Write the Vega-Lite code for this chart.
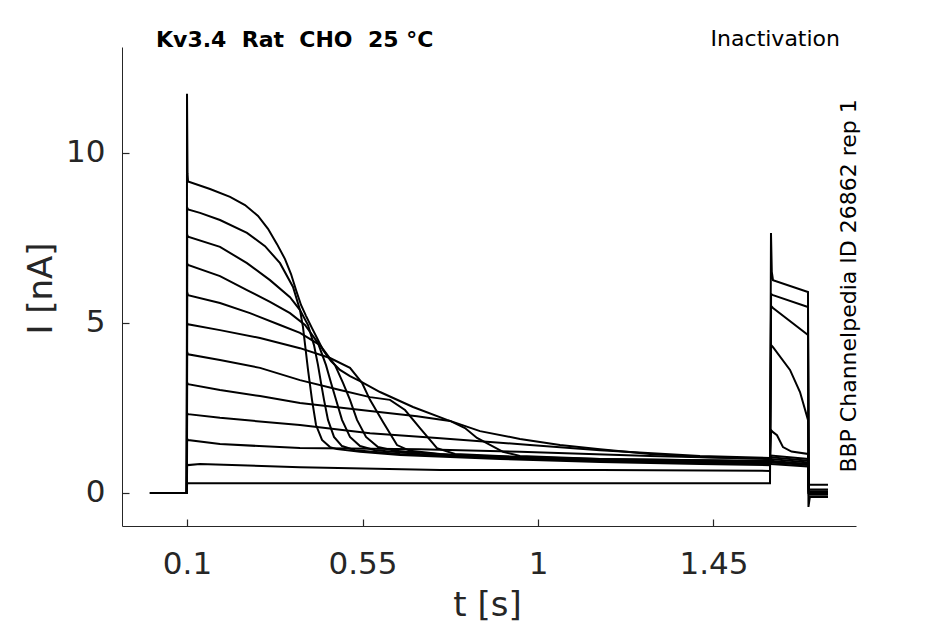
{
"$schema": "https://vega.github.io/schema/vega-lite/v6.json",
"width": 734, "height": 479,
"autosize": {"type": "none"},
"padding": {"left": 122, "top": 47, "right": 89, "bottom": 98},
"background": "white",
"config": {"view": {"stroke": null}, "font": "DejaVu Sans"},
"resolve": {"axis": {"x": "independent", "y": "independent"}},
"datasets": {
"traces": [
{"s":"A","t":0.005,"v":0},{"s":"A","t":0.0995,"v":0},{"s":"A","t":0.1,"v":11.74},{"s":"A","t":0.1013,"v":9.4},{"s":"A","t":0.1026,"v":9.16},{"s":"A","t":0.159,"v":8.94},{"s":"A","t":0.2103,"v":8.71},{"s":"A","t":0.2487,"v":8.47},{"s":"A","t":0.2821,"v":8.15},{"s":"A","t":0.3077,"v":7.77},{"s":"A","t":0.3308,"v":7.32},{"s":"A","t":0.3513,"v":6.88},{"s":"A","t":0.3667,"v":6.44},{"s":"A","t":0.3795,"v":5.97},{"s":"A","t":0.3923,"v":5.53},{"s":"A","t":0.4051,"v":5.21},{"s":"A","t":0.4205,"v":4.85},{"s":"A","t":0.4359,"v":4.5},{"s":"A","t":0.4487,"v":4.21},{"s":"A","t":0.4692,"v":3.88},{"s":"A","t":0.4923,"v":3.62},{"s":"A","t":0.5179,"v":3.44},{"s":"A","t":0.5436,"v":3.29},{"s":"A","t":0.5949,"v":2.97},{"s":"A","t":0.6795,"v":2.53},{"s":"A","t":0.7667,"v":2.15},{"s":"A","t":0.8513,"v":1.82},{"s":"A","t":0.9538,"v":1.59},{"s":"A","t":1.0564,"v":1.41},{"s":"A","t":1.159,"v":1.29},{"s":"A","t":1.2872,"v":1.15},{"s":"A","t":1.4154,"v":1.06},{"s":"A","t":1.5949,"v":1.0},{"s":"A","t":1.5977,"v":1.1},{"s":"A","t":1.6923,"v":1.0},{"s":"A","t":1.6945,"v":0.0},{"s":"A","t":1.7436,"v":0.0},
{"s":"B","t":0.005,"v":0},{"s":"B","t":0.0995,"v":0},{"s":"B","t":0.1003,"v":8.4},{"s":"B","t":0.1026,"v":8.34},{"s":"B","t":0.1333,"v":8.24},{"s":"B","t":0.1846,"v":8.03},{"s":"B","t":0.2538,"v":7.65},{"s":"B","t":0.3,"v":7.26},{"s":"B","t":0.3385,"v":6.76},{"s":"B","t":0.3718,"v":6.06},{"s":"B","t":0.3897,"v":5.38},{"s":"B","t":0.3974,"v":4.88},{"s":"B","t":0.4103,"v":3.62},{"s":"B","t":0.4205,"v":2.74},{"s":"B","t":0.4308,"v":2.0},{"s":"B","t":0.4462,"v":1.56},{"s":"B","t":0.4667,"v":1.35},{"s":"B","t":0.4846,"v":1.29},{"s":"B","t":0.5436,"v":1.21},{"s":"B","t":0.6462,"v":1.12},{"s":"B","t":0.9026,"v":1.0},{"s":"B","t":1.159,"v":0.91},{"s":"B","t":1.4154,"v":0.85},{"s":"B","t":1.5949,"v":0.82},{"s":"B","t":1.5977,"v":0.9},{"s":"B","t":1.6923,"v":0.82},{"s":"B","t":1.6945,"v":-0.05},{"s":"B","t":1.7436,"v":-0.05},
{"s":"C","t":0.005,"v":0},{"s":"C","t":0.0995,"v":0},{"s":"C","t":0.1003,"v":7.6},{"s":"C","t":0.1026,"v":7.54},{"s":"C","t":0.1846,"v":7.24},{"s":"C","t":0.2538,"v":6.76},{"s":"C","t":0.3128,"v":6.26},{"s":"C","t":0.3641,"v":5.76},{"s":"C","t":0.3897,"v":5.38},{"s":"C","t":0.4103,"v":4.94},{"s":"C","t":0.4256,"v":4.35},{"s":"C","t":0.4359,"v":3.76},{"s":"C","t":0.4436,"v":3.24},{"s":"C","t":0.4513,"v":2.74},{"s":"C","t":0.4615,"v":2.15},{"s":"C","t":0.4769,"v":1.65},{"s":"C","t":0.4974,"v":1.38},{"s":"C","t":0.5308,"v":1.26},{"s":"C","t":0.6462,"v":1.15},{"s":"C","t":0.9026,"v":1.03},{"s":"C","t":1.159,"v":0.94},{"s":"C","t":1.4154,"v":0.88},{"s":"C","t":1.5949,"v":0.85},{"s":"C","t":1.5977,"v":0.95},{"s":"C","t":1.6923,"v":0.85},{"s":"C","t":1.6945,"v":0.05},{"s":"C","t":1.7436,"v":0.05},
{"s":"D","t":0.005,"v":0},{"s":"D","t":0.0995,"v":0},{"s":"D","t":0.1003,"v":6.75},{"s":"D","t":0.1026,"v":6.71},{"s":"D","t":0.1846,"v":6.38},{"s":"D","t":0.2538,"v":5.97},{"s":"D","t":0.3128,"v":5.62},{"s":"D","t":0.3641,"v":5.29},{"s":"D","t":0.4026,"v":4.94},{"s":"D","t":0.4359,"v":4.41},{"s":"D","t":0.4564,"v":3.76},{"s":"D","t":0.4692,"v":3.24},{"s":"D","t":0.4821,"v":2.74},{"s":"D","t":0.4974,"v":2.15},{"s":"D","t":0.5179,"v":1.65},{"s":"D","t":0.5436,"v":1.38},{"s":"D","t":0.5821,"v":1.26},{"s":"D","t":0.6974,"v":1.15},{"s":"D","t":0.9026,"v":1.06},{"s":"D","t":1.159,"v":0.97},{"s":"D","t":1.5949,"v":0.88},{"s":"D","t":1.5977,"v":1.0},{"s":"D","t":1.6923,"v":0.9},{"s":"D","t":1.6945,"v":0.0},{"s":"D","t":1.7436,"v":0.0},
{"s":"E","t":0.005,"v":0},{"s":"E","t":0.0995,"v":0},{"s":"E","t":0.1003,"v":5.9},{"s":"E","t":0.1026,"v":5.82},{"s":"E","t":0.1846,"v":5.59},{"s":"E","t":0.2615,"v":5.29},{"s":"E","t":0.3385,"v":4.94},{"s":"E","t":0.3897,"v":4.71},{"s":"E","t":0.441,"v":4.35},{"s":"E","t":0.4795,"v":3.76},{"s":"E","t":0.5,"v":3.24},{"s":"E","t":0.5179,"v":2.74},{"s":"E","t":0.5359,"v":2.15},{"s":"E","t":0.559,"v":1.65},{"s":"E","t":0.5897,"v":1.35},{"s":"E","t":0.6333,"v":1.24},{"s":"E","t":0.7744,"v":1.12},{"s":"E","t":1.0308,"v":1.03},{"s":"E","t":1.2872,"v":0.94},{"s":"E","t":1.5949,"v":0.88},{"s":"E","t":1.5977,"v":0.85},{"s":"E","t":1.6923,"v":0.78},{"s":"E","t":1.6945,"v":0.0},{"s":"E","t":1.7436,"v":0.0},
{"s":"F","t":0.005,"v":0},{"s":"F","t":0.0995,"v":0},{"s":"F","t":0.1003,"v":5.0},{"s":"F","t":0.1026,"v":4.96},{"s":"F","t":0.1846,"v":4.79},{"s":"F","t":0.2872,"v":4.56},{"s":"F","t":0.3897,"v":4.26},{"s":"F","t":0.4667,"v":3.97},{"s":"F","t":0.5179,"v":3.68},{"s":"F","t":0.5487,"v":3.24},{"s":"F","t":0.5692,"v":2.74},{"s":"F","t":0.6026,"v":2.09},{"s":"F","t":0.6385,"v":1.41},{"s":"F","t":0.6718,"v":1.24},{"s":"F","t":0.7487,"v":1.15},{"s":"F","t":0.9026,"v":1.06},{"s":"F","t":1.159,"v":0.97},{"s":"F","t":1.5949,"v":0.91},{"s":"F","t":1.5977,"v":0.92},{"s":"F","t":1.6923,"v":0.85},{"s":"F","t":1.6945,"v":0.0},{"s":"F","t":1.7436,"v":0.0},
{"s":"G","t":0.005,"v":0},{"s":"G","t":0.0995,"v":0},{"s":"G","t":0.1003,"v":4.15},{"s":"G","t":0.1026,"v":4.08},{"s":"G","t":0.1846,"v":3.91},{"s":"G","t":0.2872,"v":3.68},{"s":"G","t":0.3897,"v":3.32},{"s":"G","t":0.4923,"v":3.03},{"s":"G","t":0.5692,"v":2.82},{"s":"G","t":0.6205,"v":2.74},{"s":"G","t":0.659,"v":2.44},{"s":"G","t":0.6974,"v":1.91},{"s":"G","t":0.741,"v":1.32},{"s":"G","t":0.7872,"v":1.15},{"s":"G","t":0.9538,"v":1.06},{"s":"G","t":1.159,"v":1.0},{"s":"G","t":1.5949,"v":0.94},{"s":"G","t":1.5977,"v":1.05},{"s":"G","t":1.6923,"v":0.95},{"s":"G","t":1.6945,"v":0.0},{"s":"G","t":1.7436,"v":0.0},
{"s":"H","t":0.005,"v":0},{"s":"H","t":0.0995,"v":0},{"s":"H","t":0.1003,"v":3.25},{"s":"H","t":0.1026,"v":3.2},{"s":"H","t":0.1846,"v":3.03},{"s":"H","t":0.2872,"v":2.85},{"s":"H","t":0.3897,"v":2.65},{"s":"H","t":0.5692,"v":2.41},{"s":"H","t":0.6897,"v":2.26},{"s":"H","t":0.7744,"v":2.12},{"s":"H","t":0.8128,"v":1.91},{"s":"H","t":0.8436,"v":1.62},{"s":"H","t":0.9103,"v":1.21},{"s":"H","t":0.9538,"v":1.09},{"s":"H","t":1.159,"v":1.0},{"s":"H","t":1.5949,"v":0.94},{"s":"H","t":1.5977,"v":1.85},{"s":"H","t":1.6026,"v":1.79},{"s":"H","t":1.6128,"v":1.7},{"s":"H","t":1.6282,"v":1.35},{"s":"H","t":1.65,"v":1.22},{"s":"H","t":1.6923,"v":1.15},{"s":"H","t":1.6945,"v":0.0},{"s":"H","t":1.7436,"v":0.0},
{"s":"I","t":0.005,"v":0},{"s":"I","t":0.0995,"v":0},{"s":"I","t":0.1003,"v":2.35},{"s":"I","t":0.1026,"v":2.32},{"s":"I","t":0.1846,"v":2.21},{"s":"I","t":0.3897,"v":2.0},{"s":"I","t":0.5692,"v":1.76},{"s":"I","t":0.741,"v":1.62},{"s":"I","t":0.9795,"v":1.41},{"s":"I","t":1.159,"v":1.26},{"s":"I","t":1.4154,"v":1.09},{"s":"I","t":1.5949,"v":1.03},{"s":"I","t":1.5977,"v":4.35},{"s":"I","t":1.6026,"v":4.29},{"s":"I","t":1.6462,"v":3.62},{"s":"I","t":1.6718,"v":2.97},{"s":"I","t":1.6923,"v":2.15},{"s":"I","t":1.6945,"v":0.1},{"s":"I","t":1.7436,"v":0.1},
{"s":"J","t":0.005,"v":0},{"s":"J","t":0.0995,"v":0},{"s":"J","t":0.1003,"v":1.6},{"s":"J","t":0.1026,"v":1.56},{"s":"J","t":0.1846,"v":1.44},{"s":"J","t":0.3897,"v":1.32},{"s":"J","t":0.6974,"v":1.29},{"s":"J","t":0.9538,"v":1.21},{"s":"J","t":1.2872,"v":1.09},{"s":"J","t":1.5949,"v":1.0},{"s":"J","t":1.5977,"v":5.5},{"s":"J","t":1.6026,"v":5.44},{"s":"J","t":1.6923,"v":4.65},{"s":"J","t":1.6945,"v":0.24},{"s":"J","t":1.7436,"v":0.24},
{"s":"K","t":0.005,"v":0},{"s":"K","t":0.0995,"v":0},{"s":"K","t":0.1003,"v":0.85},{"s":"K","t":0.1026,"v":0.82},{"s":"K","t":0.1333,"v":0.85},{"s":"K","t":0.3897,"v":0.76},{"s":"K","t":0.7487,"v":0.68},{"s":"K","t":1.159,"v":0.68},{"s":"K","t":1.5949,"v":0.65},{"s":"K","t":1.5977,"v":5.85},{"s":"K","t":1.6026,"v":5.82},{"s":"K","t":1.6923,"v":5.47},{"s":"K","t":1.6945,"v":0.03},{"s":"K","t":1.7436,"v":0.03},
{"s":"L","t":0.005,"v":0},{"s":"L","t":0.0995,"v":0},{"s":"L","t":0.1003,"v":0.3},{"s":"L","t":0.1026,"v":0.29},{"s":"L","t":0.3897,"v":0.29},{"s":"L","t":1.5949,"v":0.29},{"s":"L","t":1.5974,"v":7.65},{"s":"L","t":1.5995,"v":6.5},{"s":"L","t":1.6026,"v":6.26},{"s":"L","t":1.6923,"v":5.91},{"s":"L","t":1.6935,"v":-0.41},{"s":"L","t":1.697,"v":-0.12},{"s":"L","t":1.7436,"v":-0.12}
]
},
"layer": [
{
"data": {"name": "traces"},
"mark": {"type": "line", "color": "black", "strokeWidth": 2, "clip": false},
"encoding": {
"x": {"field": "t", "type": "quantitative",
"scale": {"domain": [-0.0667, 1.8154], "nice": false, "zero": false},
"axis": {"orient": "bottom", "values": [0.1, 0.55, 1, 1.45], "format": ".3~g", "grid": false, "title": "t [s]", "ticks": false,
"labelFontSize": 31, "labelFont": "DejaVu Sans", "labelColor": "#262626", "labelFlush": false, "labelOverlap": false,
"labelPadding": 23, "domainColor": "#262626", "domainWidth": 1,
"titleFontSize": 34, "titleFont": "DejaVu Sans", "titleFontWeight": "normal", "titleColor": "#262626",
"titleX": 365, "titleY": 89, "titleBaseline": "alphabetic", "titleAlign": "center"}},
"y": {"field": "v", "type": "quantitative",
"scale": {"domain": [-0.9706, 13.1176], "nice": false, "zero": false},
"axis": {"orient": "left", "values": [0, 5, 10], "format": ".3~g", "grid": false, "title": "I [nA]", "ticks": false,
"labelFontSize": 31, "labelFont": "DejaVu Sans", "labelColor": "#262626", "labelFlush": false, "labelOverlap": false,
"labelPadding": 17, "domainColor": "#262626", "domainWidth": 1,
"titleFontSize": 34, "titleFont": "DejaVu Sans", "titleFontWeight": "normal", "titleColor": "#262626",
"titleX": -81, "titleY": 241, "titleBaseline": "middle", "titleAlign": "center", "titleAngle": 270}},
"detail": {"field": "s", "type": "nominal"}
}
},
{
"data": {"values": [{"t": 1.7744, "v": 13.16, "label": "Inactivation"}]},
"mark": {"type": "text", "align": "right", "baseline": "alphabetic", "fontSize": 22, "font": "DejaVu Sans", "color": "black"},
"encoding": {
"x": {"field": "t", "type": "quantitative", "axis": {"orient": "bottom", "offset": -7, "values": [0.1, 0.55, 1, 1.45], "ticks": true, "tickSize": 7, "tickWidth": 1.2, "tickColor": "#262626", "labels": false, "domain": false, "grid": false, "title": null}},
"y": {"field": "v", "type": "quantitative", "axis": {"orient": "left", "offset": -7, "values": [0, 5, 10], "ticks": true, "tickSize": 7, "tickWidth": 1.2, "tickColor": "#262626", "labels": false, "domain": false, "grid": false, "title": null}},
"text": {"field": "label"}}
},
{
"data": {"values": [{"t": 0.0205, "v": 13.13, "label": "Kv3.4\u00a0\u00a0Rat\u00a0\u00a0CHO\u00a0\u00a025\u00a0°C"}]},
"mark": {"type": "text", "align": "left", "baseline": "alphabetic", "fontSize": 22, "fontWeight": "bold", "font": "DejaVu Sans", "color": "black"},
"encoding": {"x": {"field": "t", "type": "quantitative", "axis": null}, "y": {"field": "v", "type": "quantitative", "axis": null}, "text": {"field": "label"}}
},
{
"data": {"values": [{"t": 1.8154, "v": 6.09, "label": "BBP Channelpedia ID 26862 rep 1"}]},
"mark": {"type": "text", "align": "center", "baseline": "alphabetic", "angle": 270, "fontSize": 22, "font": "DejaVu Sans", "color": "black"},
"encoding": {"x": {"field": "t", "type": "quantitative", "axis": null}, "y": {"field": "v", "type": "quantitative", "axis": null}, "text": {"field": "label"}}
}
]
}
